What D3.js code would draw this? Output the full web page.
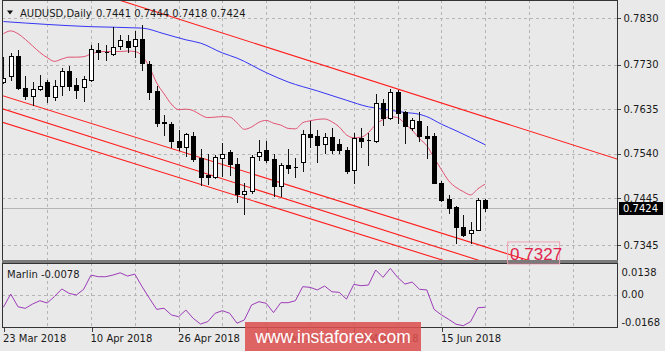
<!DOCTYPE html>
<html>
<head>
<meta charset="utf-8">
<title>AUDUSD Daily</title>
<script src="https://cdn.jsdelivr.net/npm/d3@7/dist/d3.min.js"></script>
<style>
    body { margin: 0; background: #e9e9e9; }
    svg { display: block; }
    text { font-family: 'DejaVu Sans', Tahoma, sans-serif; font-size: 10px; fill: #1a1a1a; }
    .grid-line { stroke: #b5b5b5; stroke-dasharray: 3,3; shape-rendering: crispEdges; }
    .axis path { display: none; }
    .axis line { stroke: #444; shape-rendering: crispEdges; }
    .axis text { font-family: 'DejaVu Sans', Tahoma, sans-serif; font-size: 10px; fill: #1a1a1a; }
</style>
</head>
<body>
<script>
const symbol = 'AUDUSD,Daily';
const marlinName = 'Marlin';
const firstDay = new Date(2018, 2, 23);

const opens = [0.7692, 0.7705, 0.7749, 0.7680, 0.7663, 0.7679, 0.7694, 0.7662, 0.7685, 0.7717,
    0.7687, 0.7682, 0.7698, 0.7762, 0.7757, 0.7753, 0.7770, 0.7781, 0.7769, 0.7785,
    0.7731, 0.7674, 0.7606, 0.7603, 0.7567, 0.7554, 0.7578, 0.7531, 0.7495, 0.7491,
    0.7531, 0.7543, 0.7518, 0.7454, 0.7461, 0.7534, 0.7547, 0.7528, 0.7470, 0.7516,
    0.7511, 0.7523, 0.7582, 0.7577, 0.7560, 0.7575, 0.7560, 0.7548, 0.7506, 0.7574,
    0.7570, 0.7566, 0.7648, 0.7616, 0.7671, 0.7628, 0.7595, 0.7610, 0.7578, 0.7578,
    0.7477, 0.7443, 0.7426, 0.7384, 0.7370, 0.7377, 0.7441];
const highs = [0.7747, 0.7755, 0.7762, 0.7705, 0.7694, 0.7708, 0.7698, 0.7698, 0.7723, 0.7728,
    0.7701, 0.7705, 0.7772, 0.7776, 0.7772, 0.7811, 0.7794, 0.7794, 0.7801, 0.7815,
    0.7737, 0.7685, 0.7623, 0.7607, 0.7591, 0.7585, 0.7586, 0.7550, 0.7540, 0.7538,
    0.7563, 0.7548, 0.7531, 0.7477, 0.7538, 0.7570, 0.7568, 0.7540, 0.7520, 0.7550,
    0.7531, 0.7591, 0.7609, 0.7591, 0.7584, 0.7595, 0.7571, 0.7555, 0.7585, 0.7595,
    0.7584, 0.7668, 0.7657, 0.7678, 0.7676, 0.7630, 0.7616, 0.7628, 0.7598, 0.7585,
    0.7481, 0.7452, 0.7429, 0.7409, 0.7395, 0.7445, 0.7444];
const lows = [0.7691, 0.7698, 0.7678, 0.7656, 0.7644, 0.7676, 0.7651, 0.7655, 0.7666, 0.7676,
    0.7659, 0.7653, 0.7696, 0.7742, 0.7740, 0.7751, 0.7763, 0.7758, 0.7747, 0.7719,
    0.7656, 0.7599, 0.7579, 0.7554, 0.7548, 0.7534, 0.7525, 0.7474, 0.7476, 0.7488,
    0.7493, 0.7495, 0.7436, 0.7412, 0.7456, 0.7527, 0.7523, 0.7450, 0.7449, 0.7499,
    0.7490, 0.7504, 0.7554, 0.7523, 0.7542, 0.7542, 0.7541, 0.7499, 0.7477, 0.7555,
    0.7516, 0.7564, 0.7602, 0.7614, 0.7605, 0.7563, 0.7591, 0.7568, 0.7531, 0.7477,
    0.7440, 0.7413, 0.7349, 0.7365, 0.7349, 0.7376, 0.7418];
const closes = [0.7701, 0.7749, 0.7680, 0.7663, 0.7678, 0.7685, 0.7663, 0.7685, 0.7717, 0.7685,
    0.7675, 0.7699, 0.7763, 0.7756, 0.7758, 0.7767, 0.7783, 0.7767, 0.7785, 0.7733,
    0.7671, 0.7605, 0.7607, 0.7566, 0.7555, 0.7582, 0.7528, 0.7490, 0.7491, 0.7533,
    0.7539, 0.7518, 0.7454, 0.7461, 0.7533, 0.7543, 0.7527, 0.7471, 0.7516, 0.7509,
    0.7511, 0.7582, 0.7575, 0.7559, 0.7575, 0.7547, 0.7547, 0.7504, 0.7574, 0.7568,
    0.7570, 0.7648, 0.7616, 0.7671, 0.7627, 0.7599, 0.7611, 0.7577, 0.7573, 0.7478,
    0.7442, 0.7424, 0.7383, 0.7367, 0.7377, 0.7442, 0.7424];

// slow moving average (blue), read at some bars: [bar, price]
const slowMa = [[0, 0.7822], [12, 0.7811], [19, 0.7808], [22, 0.7796], [25, 0.7783], [27, 0.7776],
    [30, 0.7755], [32, 0.7744], [36, 0.7713], [39, 0.7693], [43, 0.7674], [47, 0.7654],
    [50, 0.7640], [52, 0.7635], [55, 0.7628], [57, 0.7624], [58, 0.7619], [60, 0.7603],
    [62, 0.7589], [66, 0.7559]];
// fast moving average (pink), one value per bar
const fastMa = [0.7796, 0.7802, 0.7796, 0.7784, 0.7770, 0.7756, 0.7745, 0.7737, 0.7742, 0.7746,
    0.7746, 0.7747, 0.7753, 0.7757, 0.7758, 0.7758, 0.7758, 0.7759, 0.7758, 0.7749,
    0.7725, 0.7691, 0.7668, 0.7646, 0.7634, 0.7635, 0.7632, 0.7623, 0.7617, 0.7618,
    0.7619, 0.7618, 0.7606, 0.7592, 0.7597, 0.7607, 0.7611, 0.7605, 0.7601, 0.7594,
    0.7593, 0.7606, 0.7610, 0.7613, 0.7614, 0.7608, 0.7597, 0.7580, 0.7574, 0.7575,
    0.7585, 0.7602, 0.7613, 0.7619, 0.7617, 0.7604, 0.7590, 0.7572, 0.7557, 0.7531,
    0.7506, 0.7482, 0.7468, 0.7459, 0.7452, 0.7465, 0.7475];
const marlin = [-0.0078, 0.0003, -0.0075, -0.0085, -0.0058, -0.0038, -0.0052, -0.0012, 0.0034, 0.0007,
    -0.0003, 0.0032, 0.0119, 0.0109, 0.0109, 0.0119, 0.0133, 0.0113, 0.0125, 0.0048,
    -0.0023, -0.0091, -0.0084, -0.0125, -0.0136, -0.0095, -0.0146, -0.0181, -0.0166, -0.0115,
    -0.0099, -0.0115, -0.0176, -0.0156, -0.0064, -0.0044, -0.0054, -0.0111, -0.0050, -0.0050,
    -0.0038, 0.0048, 0.0044, 0.0028, 0.0052, 0.0017, 0.0013, -0.0028, 0.0062, 0.0054,
    0.0058, 0.0150, 0.0105, 0.0160, 0.0105, 0.0064, 0.0076, 0.0032, 0.0028, -0.0091,
    -0.0125, -0.0152, -0.0182, -0.0191, -0.0166, -0.0081, -0.0078];

// channel trend lines, two anchors each: [bar, price]
const channelUpper = [[10, 0.7897], [90, 0.7499]];
const channelLower = [
    [[-2, 0.7673], [90, 0.7224]],
    [[-2, 0.7645], [90, 0.7189]],
    [[-2, 0.7616], [90, 0.7167]]
];
const levelLabel = 0.7327;

const priceTicks = [0.7830, 0.7730, 0.7635, 0.7540, 0.7445, 0.7345];
const marlinTicks = [0.0138, 0, -0.0168];
const tickLabels = ['23 Mar 2018', '10 Apr 2018', '26 Apr 2018', '14 May 2018', '30 May 2018', '15 Jun 2018'];
const watermark = 'www.instaforex.com';

class Chart {
    #width
    #height
    #svg
    #x
    #yPrice
    #yMarlin
    #dates
    #box

    constructor(width, height) {
        this.#width = width;
        this.#height = height;
        this.#box = {left: 2, right: 617, top: 0, mainBottom: 260, subTop: 263, subBottom: 327};
        this.#x = d3.scaleLinear().domain([0, 66]).range([3.4, 485.2]);
        this.#yPrice = d3.scaleLinear().domain([0.7313, 0.7868]).range([this.#box.mainBottom, 0]);
        this.#yMarlin = d3.scaleLinear().domain([-0.0199, 0.0193]).range([this.#box.subBottom, this.#box.subTop]);

        const fmt = d3.timeFormat('%-d %b %Y');
        this.#dates = [];
        for (let d = new Date(firstDay); this.#dates.length < opens.length; d.setDate(d.getDate() + 1)) {
            if (d.getDay() !== 0 && d.getDay() !== 6) this.#dates.push(fmt(d));
        }
    }

    renderSetup() {
        const b = this.#box;
        this.#svg = d3.select('body').append('svg')
            .attr('width', this.#width)
            .attr('height', this.#height);

        const defs = this.#svg.append('defs');
        defs.append('clipPath').attr('id', 'main-clip')
            .append('rect')
            .attr('x', b.left).attr('y', b.top)
            .attr('width', b.right - b.left).attr('height', b.mainBottom - b.top);
        defs.append('clipPath').attr('id', 'sub-clip')
            .append('rect')
            .attr('x', b.left).attr('y', b.subTop)
            .attr('width', b.right - b.left).attr('height', b.subBottom - b.subTop);

        this.mainG = this.#svg.append('g').attr('clip-path', 'url(#main-clip)');
        this.subG = this.#svg.append('g').attr('clip-path', 'url(#sub-clip)');
    }

    renderGrid() {
        const b = this.#box;
        const cols = d3.range(6, 84, 6).map(i => Math.round(this.#x(i)) + 0.5);

        this.mainG.selectAll('line.v').data(cols).enter().append('line')
            .classed('grid-line', true)
            .attr('x1', d => d).attr('x2', d => d)
            .attr('y1', b.top).attr('y2', b.mainBottom);
        this.mainG.selectAll('line.h').data(priceTicks).enter().append('line')
            .classed('grid-line', true)
            .attr('x1', b.left).attr('x2', b.right)
            .attr('y1', d => Math.round(this.#yPrice(d)) + 0.5)
            .attr('y2', d => Math.round(this.#yPrice(d)) + 0.5);

        this.subG.selectAll('line.v').data(cols).enter().append('line')
            .classed('grid-line', true)
            .attr('x1', d => d).attr('x2', d => d)
            .attr('y1', b.subTop).attr('y2', b.subBottom);
        this.subG.append('line')
            .classed('grid-line', true)
            .attr('x1', b.left).attr('x2', b.right)
            .attr('y1', Math.round(this.#yMarlin(0)) + 0.5)
            .attr('y2', Math.round(this.#yMarlin(0)) + 0.5);

        // bid line
        const bid = Math.round(this.#yPrice(closes[closes.length - 1])) + 0.5;
        this.mainG.append('line')
            .attr('x1', b.left).attr('x2', b.right)
            .attr('y1', bid).attr('y2', bid)
            .attr('stroke', '#b4b4b4')
            .attr('shape-rendering', 'crispEdges');
    }

    renderTrendLines() {
        const line = d3.line()
            .x(d => this.#x(d[0]))
            .y(d => this.#yPrice(d[1]));
        const all = [channelUpper].concat(channelLower);

        this.mainG.selectAll('path.trend').data(all).enter().append('path')
            .attr('class', 'trend')
            .attr('d', line)
            .attr('fill', 'none')
            .attr('stroke', '#ff1e1e')
            .attr('stroke-width', 1.1);
    }

    renderAverages() {
        const line = d3.line()
            .x(d => this.#x(d[0]))
            .y(d => this.#yPrice(d[1]))
            .curve(d3.curveMonotoneX);

        this.mainG.append('path')
            .attr('d', line(slowMa))
            .attr('fill', 'none')
            .attr('stroke', '#3535f5')
            .attr('stroke-width', 1);

        this.mainG.append('path')
            .attr('d', line(fastMa.map((v, i) => [i, v])))
            .attr('fill', 'none')
            .attr('stroke', '#e25273')
            .attr('stroke-width', 1);
    }

    renderCandles() {
        const bars = opens.map((o, i) => ({i, o, h: highs[i], l: lows[i], c: closes[i]}));
        const g = this.mainG.append('g').attr('class', 'candles')
            .attr('shape-rendering', 'crispEdges');

        const cx = d => Math.round(this.#x(d.i)) + 0.5;

        g.selectAll('line.wick').data(bars).enter().append('line')
            .attr('class', 'wick')
            .attr('x1', cx).attr('x2', cx)
            .attr('y1', d => Math.round(this.#yPrice(d.h)))
            .attr('y2', d => Math.round(this.#yPrice(d.l)) + 1)
            .attr('stroke', '#111');

        g.selectAll('path.body').data(bars).enter().append('path')
            .attr('class', 'body')
            .attr('d', d => {
                const top = Math.round(this.#yPrice(Math.max(d.o, d.c))) + 0.5;
                const bot = Math.round(this.#yPrice(Math.min(d.o, d.c))) + 0.5;
                const x0 = cx(d) - 2, x1 = cx(d) + 2;
                return 'M' + x0 + ',' + top + 'H' + x1 + 'V' + bot + 'H' + x0 + 'Z';
            })
            .attr('fill', d => d.c >= d.o ? '#fff' : '#000')
            .attr('stroke', '#000');
    }

    renderMarlin() {
        const line = d3.line()
            .x((d, i) => this.#x(i))
            .y(d => this.#yMarlin(d));

        this.subG.append('path')
            .attr('d', line(marlin))
            .attr('fill', 'none')
            .attr('stroke', '#9c3cb8')
            .attr('stroke-width', 1);
    }

    renderAxes() {
        const b = this.#box;
        const svg = this.#svg;

        // frames
        svg.append('rect')
            .attr('x', b.left + 0.5).attr('y', b.top + 0.5)
            .attr('width', b.right - b.left).attr('height', b.mainBottom - b.top)
            .attr('fill', 'none').attr('stroke', '#333')
            .attr('shape-rendering', 'crispEdges');
        svg.append('rect')
            .attr('x', b.left).attr('y', b.mainBottom)
            .attr('width', b.right - b.left + 1).attr('height', b.subTop - b.mainBottom)
            .attr('fill', '#7a7a7a');
        svg.append('rect')
            .attr('x', b.left + 0.5).attr('y', b.subTop + 0.5)
            .attr('width', b.right - b.left).attr('height', b.subBottom - b.subTop)
            .attr('fill', 'none').attr('stroke', '#333')
            .attr('shape-rendering', 'crispEdges');

        const priceAxis = d3.axisRight(this.#yPrice)
            .tickValues(priceTicks)
            .tickFormat(d => d.toFixed(4))
            .tickSize(3)
            .tickPadding(3);
        svg.append('g')
            .attr('class', 'y axis')
            .attr('transform', 'translate(' + (b.right + 0.5) + ',0)')
            .call(priceAxis);

        const marlinAxis = d3.axisRight(this.#yMarlin)
            .tickValues(marlinTicks)
            .tickFormat(d => d === 0 ? '0.00' : d.toFixed(4))
            .tickSize(0)
            .tickPadding(4);
        svg.append('g')
            .attr('class', 'y axis')
            .attr('transform', 'translate(' + (b.right + 0.5) + ',0)')
            .call(marlinAxis);

        const dateAxis = d3.axisBottom(this.#x)
            .tickValues(tickLabels.map(t => this.#dates.indexOf(t)))
            .tickFormat(i => this.#dates[i])
            .tickSize(4)
            .tickPadding(3);
        const xg = svg.append('g')
            .attr('class', 'x axis')
            .attr('transform', 'translate(0,' + (b.subBottom + 0.5) + ')')
            .call(dateAxis);
        xg.selectAll('.tick line').attr('transform', 'translate(0.5,0)');
        xg.selectAll('.tick text').attr('text-anchor', 'start').attr('dx', -1);
    }

    renderLabels() {
        const svg = this.#svg;
        const last = opens.length - 1;
        const f = v => v.toFixed(4);

        svg.append('path')
            .attr('d', 'M7,10.5L13,10.5L10,14.5Z')
            .attr('fill', '#111');
        svg.append('text')
            .attr('x', 20).attr('y', 16.5)
            .text(symbol);
        svg.append('text')
            .attr('x', 96).attr('y', 16.5)
            .text([opens[last], highs[last], lows[last], closes[last]].map(f).join(' '));

        svg.append('text')
            .attr('x', 7).attr('y', 277.5)
            .text(marlinName + ' ' + f(marlin[last]));

        // current price box on the price scale
        const yc = this.#yPrice(closes[last]);
        svg.append('rect')
            .attr('x', 619).attr('y', Math.round(yc) - 6)
            .attr('width', 44).attr('height', 13)
            .attr('fill', '#000');
        svg.append('text')
            .attr('x', 623).attr('y', Math.round(yc) + 4)
            .style('fill', '#fff')
            .text(f(closes[last]));

        // level label at the channel line
        const lx = this.#x(69);
        const ly = this.#yPrice(levelLabel);
        svg.append('rect')
            .attr('x', lx + 0.5).attr('y', ly - 11.5)
            .attr('width', 52).attr('height', 22)
            .attr('fill', 'none')
            .attr('stroke', '#eea3b3');
        svg.append('text')
            .attr('x', lx + 3).attr('y', ly + 7)
            .style('font-family', "'Liberation Sans', Arial, sans-serif")
            .style('font-size', '17px')
            .style('fill', '#e0244c')
            .text(f(levelLabel));

        // watermark
        svg.append('rect')
            .attr('x', 245).attr('y', 322)
            .attr('width', 176).attr('height', 29)
            .attr('fill', 'rgba(220,80,80,0.88)');
        svg.append('text')
            .attr('x', 333).attr('y', 343)
            .attr('text-anchor', 'middle')
            .style('font-family', "'Liberation Sans', Arial, sans-serif")
            .style('font-size', '17.5px')
            .style('fill', '#fff')
            .text(watermark);
    }

    render() {
        this.renderSetup();
        this.renderGrid();
        this.renderTrendLines();
        this.renderAverages();
        this.renderCandles();
        this.renderMarlin();
        this.renderAxes();
        this.renderLabels();
    }
}

new Chart(665, 351).render();
</script>
</body>
</html>
